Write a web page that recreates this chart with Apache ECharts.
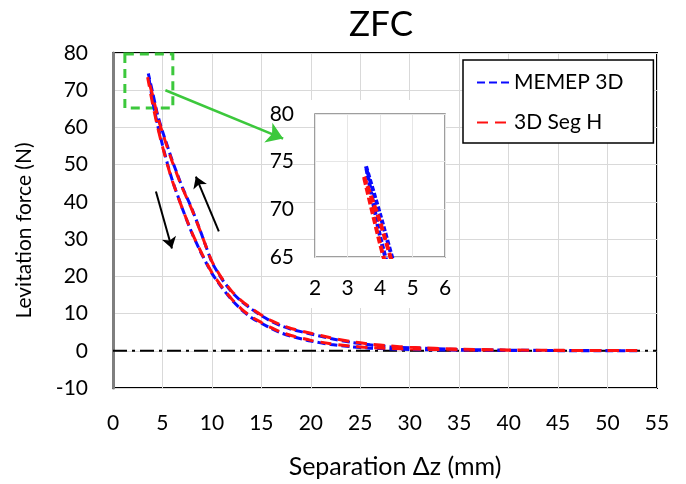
<!DOCTYPE html>
<html>
<head>
<meta charset="utf-8">
<script src="https://cdn.jsdelivr.net/npm/echarts@6/dist/echarts.min.js"></script>
<style>html,body{margin:0;padding:0;background:#fff}#c{width:686px;height:484px}</style>
</head>
<body>
<div id="c"></div>
<script>
// ---- data ----
const xTicks = [0, 55, 5];          // main x axis min, max, interval
const yTicks = [-10, 80, 10];       // main y axis min, max, interval
const insetXTicks = [2, 6, 1];
const insetYTicks = [65, 80, 5];

const blueInnerX = [53,50,45,40,35,30,28,26,24,22,20,18,17,16,15,14,13,12,11,10,9,8,7,6,5.5,5,4.5,4,3.57];
const blueInnerY = [0.0,0.02,0.04,0.08,0.15,0.35,0.5,0.7,1.1,1.7,2.6,3.9,4.8,6.0,7.4,8.9,11.0,13.7,17.0,20.8,25.8,31.5,38.3,45.8,50.3,55.3,60.8,67.2,74.5];
const blueOuterX = [3.57,4,4.5,5,5.5,6,6.5,7,8,9,10,11,12,13,14,15,16,17,18,20,22,24,26,28,30,35,40,45,50,53];
const blueOuterY = [74.5,69.5,63.5,59,55,51,47.5,44,38,31,23.8,19.3,15.8,13.2,11.2,9.4,7.9,6.7,5.8,4.5,3.3,2.3,1.6,1.1,0.8,0.35,0.15,0.08,0.04,0.02];

const redInnerX = [53,50,45,40,35,30,28,26,24,22,20,18,17,16,15,14,13,12,11,10,9,8,7,6,5.5,5,4.5,4,3.5];
const redInnerY = [0.05,0.07,0.1,0.15,0.25,0.45,0.6,0.85,1.25,1.9,2.8,4.1,5.0,6.2,7.6,9.1,11.2,13.9,17.2,21.0,26.0,31.6,38.3,45.6,50.0,54.9,60.2,66.4,73.5];
const redOuterX = [3.5,4,4.5,5,5.5,6,6.5,7,8,9,10,11,12,13,14,15,16,17,18,20,22,24,26,28,30,35,40,45,50,53];
const redOuterY = [73.5,68.7,63.0,58.6,54.6,50.7,47.2,43.8,37.8,30.9,24.0,19.5,16.0,13.4,11.4,9.6,8.1,6.9,6.0,4.7,3.5,2.5,1.8,1.3,0.95,0.45,0.22,0.12,0.07,0.05];

const baselineX = [0, 55];
const baselineY = [0, 0];

// annotations in data coordinates of the main chart
const zoomBox = [[1.2, 79.7], [6.05, 65.2]];
const greenArrow = [[5.3, 70], [17.2, 57]];
const downArrow = [[4.34, 42.8], [5.96, 27.5]];
const upArrow = [[10.7, 32.1], [8.38, 46.8]];

const names = ['MEMEP 3D', '3D Seg H'];

// ---- build ----
function pairs(xs, ys) { return xs.map((x, i) => [x, ys[i]]); }
const blueLoop = pairs(blueInnerX, blueInnerY).concat(pairs(blueOuterX, blueOuterY).slice(1));
const redLoop = pairs(redInnerX, redInnerY).concat(pairs(redOuterX, redOuterY).slice(1));

const FONT = 'Lato';
const BLUE = '#0a0aff';
const RED = '#ff1010';
const GREEN = '#3cc83c';

const chart = echarts.init(document.getElementById('c'));
chart.setOption({
  animation: false,
  textStyle: { fontFamily: FONT },
  title: {
    text: 'ZFC', left: 344, top: 2,
    textStyle: { fontFamily: FONT, fontSize: 35, fontWeight: 'normal', color: '#000' }
  },
  legend: {
    data: names,
    orient: 'vertical',
    left: 463, top: 60,
    padding: [12, 30, 10, 13],
    itemWidth: 32, itemHeight: 14, itemGap: 19, itemTextGap: 1,
    borderColor: '#000', borderWidth: 1.5,
    backgroundColor: '#fff',
    itemStyle: { opacity: 0 },
    textStyle: { fontFamily: FONT, fontSize: 21, color: '#000' }
  },
  graphic: [{
    type: 'rect', z: 1, silent: true,
    shape: { x: 268, y: 100, width: 184, height: 208 },
    style: { fill: '#fff' }
  }],
  grid: [
    { left: 113, right: 29, top: 53, bottom: 94, show: true, borderColor: '#000', borderWidth: 2, backgroundColor: 'transparent' },
    { left: 315, top: 114, width: 130, height: 143, show: true, borderColor: '#7f7f7f', borderWidth: 1.5, backgroundColor: '#fff', z: 3 }
  ],
  xAxis: [
    { type: 'value', gridIndex: 0, min: xTicks[0], max: xTicks[1], interval: xTicks[2],
      name: 'Separation Δz (mm)', nameLocation: 'middle', nameGap: 66,
      nameTextStyle: { fontFamily: FONT, fontSize: 25, color: '#000', padding: [0, 0, 0, 20] },
      axisLine: { show: false }, axisTick: { show: false },
      axisLabel: { fontFamily: FONT, fontSize: 21, color: '#000', margin: 25 },
      splitLine: { show: true, lineStyle: { color: '#d9d9d9', width: 1 } } },
    { type: 'value', gridIndex: 1, min: insetXTicks[0], max: insetXTicks[1], interval: insetXTicks[2], z: 3,
      axisLine: { show: false }, axisTick: { show: false },
      axisLabel: { fontFamily: FONT, fontSize: 21, color: '#000', margin: 21 },
      splitLine: { show: true, lineStyle: { color: '#e6e6e6', width: 1 } } }
  ],
  yAxis: [
    { type: 'value', gridIndex: 0, min: yTicks[0], max: yTicks[1], interval: yTicks[2], z: 1,
      name: 'Levitation force (N)', nameLocation: 'middle', nameGap: 78, nameRotate: 90,
      nameTextStyle: { fontFamily: FONT, fontSize: 21, color: '#000', padding: [0, 20, 0, 0] },
      axisLine: { show: true, lineStyle: { color: '#7f7f7f', width: 3 } }, axisTick: { show: false },
      axisLabel: { fontFamily: FONT, fontSize: 21, color: '#000', margin: 25 },
      splitLine: { show: true, lineStyle: { color: '#d9d9d9', width: 1 } } },
    { type: 'value', gridIndex: 1, min: insetYTicks[0], max: insetYTicks[1], interval: insetYTicks[2], z: 3,
      axisLine: { show: false }, axisTick: { show: false },
      axisLabel: { fontFamily: FONT, fontSize: 21, color: '#000', margin: 21 },
      splitLine: { show: true, lineStyle: { color: '#e6e6e6', width: 1 } } }
  ],
  series: [
    { name: 'baseline', type: 'line', xAxisIndex: 0, yAxisIndex: 0, z: 2,
      data: pairs(baselineX, baselineY), showSymbol: false, symbol: 'none', silent: true,
      lineStyle: { color: '#000', width: 2, type: [14, 5, 3, 5] },
      markArea: { silent: true,
        itemStyle: { color: 'rgba(0,0,0,0)', borderColor: GREEN, borderWidth: 3, borderType: [9, 6] },
        data: [[{ coord: zoomBox[0] }, { coord: zoomBox[1] }]] },
      markLine: { silent: true, symbol: ['none', 'arrow'], label: { show: false },
        data: [
          [{ coord: greenArrow[0], symbolSize: 16, lineStyle: { color: GREEN, width: 2.5, type: 'solid' } }, { coord: greenArrow[1], symbolSize: 16 }],
          [{ coord: downArrow[0], symbolSize: 11, lineStyle: { color: '#000', width: 2, type: 'solid' } }, { coord: downArrow[1], symbolSize: 11 }],
          [{ coord: upArrow[0], symbolSize: 11, lineStyle: { color: '#000', width: 2, type: 'solid' } }, { coord: upArrow[1], symbolSize: 11 }]
        ] }
    },
    { name: names[0], type: 'line', xAxisIndex: 0, yAxisIndex: 0, z: 4,
      data: blueLoop, symbol: 'none', smooth: 0.2, color: BLUE,
      lineStyle: { color: BLUE, width: 3, type: [8, 4] } },
    { name: names[1], type: 'line', xAxisIndex: 0, yAxisIndex: 0, z: 5,
      data: redLoop, symbol: 'none', smooth: 0.2, color: RED,
      lineStyle: { color: RED, width: 3, type: [11, 7] } },
    { name: names[0] + ' inset', type: 'line', xAxisIndex: 1, yAxisIndex: 1, z: 6,
      data: blueLoop, symbol: 'none', smooth: 0.2, clip: true,
      lineStyle: { color: BLUE, width: 4, type: [5, 2] } },
    { name: names[1] + ' inset', type: 'line', xAxisIndex: 1, yAxisIndex: 1, z: 7,
      data: redLoop, symbol: 'none', smooth: 0.2, clip: true,
      lineStyle: { color: RED, width: 4, type: [7, 3] } }
  ]
});
</script>
</body>
</html>
